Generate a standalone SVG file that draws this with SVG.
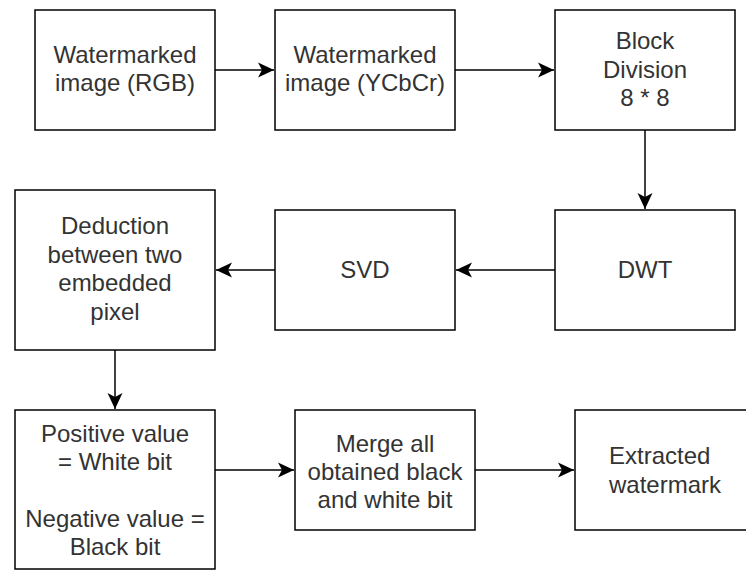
<svg xmlns="http://www.w3.org/2000/svg" width="746" height="570" viewBox="0 0 746 570">
<style>
.box{fill:#fff;stroke:#000;stroke-width:1.5}
.t{font-family:"Liberation Sans",Arial,sans-serif;font-size:24px;fill:#333;text-anchor:middle}
.tl{text-anchor:start}
.edge{stroke:#000;stroke-width:1.5;fill:none;marker-end:url(#arr)}
</style>
<defs>
<marker id="arr" markerUnits="userSpaceOnUse" viewBox="-17 -9 18 18" refX="0" refY="0" markerWidth="18" markerHeight="18" orient="auto">
<path d="M0,0 L-16,-7.5 L-12,0 L-16,7.5 Z" fill="#000"/>
</marker>
</defs>
<rect width="746" height="570" fill="#fff"/>
<g id="n1"><rect class="box" x="35" y="10" width="180" height="120"/>
<text class="t" x="125" y="63">Watermarked</text><text class="t" x="125" y="91">image (RGB)</text></g>
<g id="n2"><rect class="box" x="275" y="10" width="180" height="120"/>
<text class="t" x="365" y="63">Watermarked</text><text class="t" x="365" y="91">image (YCbCr)</text></g>
<g id="n3"><rect class="box" x="555" y="10" width="180" height="120"/>
<text class="t" x="645" y="49">Block</text><text class="t" x="645" y="77.5">Division</text><text class="t" x="645" y="106">8 * 8</text></g>
<g id="n4"><rect class="box" x="555" y="210" width="180" height="120"/>
<text class="t" x="645" y="278">DWT</text></g>
<g id="n5"><rect class="box" x="275" y="210" width="180" height="120"/>
<text class="t" x="365" y="278">SVD</text></g>
<g id="n6"><rect class="box" x="15" y="190" width="200" height="160"/>
<text class="t" x="115" y="234">Deduction</text><text class="t" x="115" y="262.5">between two</text><text class="t" x="115" y="291">embedded</text><text class="t" x="115" y="319.5">pixel</text></g>
<g id="n7"><rect class="box" x="15" y="410" width="200" height="159"/>
<text class="t" x="115" y="441.5">Positive value</text><text class="t" x="115" y="470">= White bit</text><text class="t" x="115" y="526.5">Negative value =</text><text class="t" x="115" y="555">Black bit</text></g>
<g id="n8"><rect class="box" x="295" y="410" width="180" height="120"/>
<text class="t" x="385" y="451.5">Merge all</text><text class="t" x="385" y="479.5">obtained black</text><text class="t" x="385" y="507.5">and white bit</text></g>
<g id="n9"><rect class="box" x="575" y="410" width="200" height="120"/>
<text class="t tl" x="609" y="464">Extracted</text><text class="t tl" x="609" y="492.5">watermark</text></g>
<g id="edges">
<line class="edge" x1="215" y1="70" x2="274" y2="70"/>
<line class="edge" x1="455" y1="70" x2="554" y2="70"/>
<line class="edge" x1="645" y1="130" x2="645" y2="209"/>
<line class="edge" x1="555" y1="270" x2="456" y2="270"/>
<line class="edge" x1="275" y1="270" x2="216" y2="270"/>
<line class="edge" x1="115" y1="350" x2="115" y2="409"/>
<line class="edge" x1="215" y1="470" x2="294" y2="470"/>
<line class="edge" x1="475" y1="470" x2="574" y2="470"/>
</g>
</svg>
